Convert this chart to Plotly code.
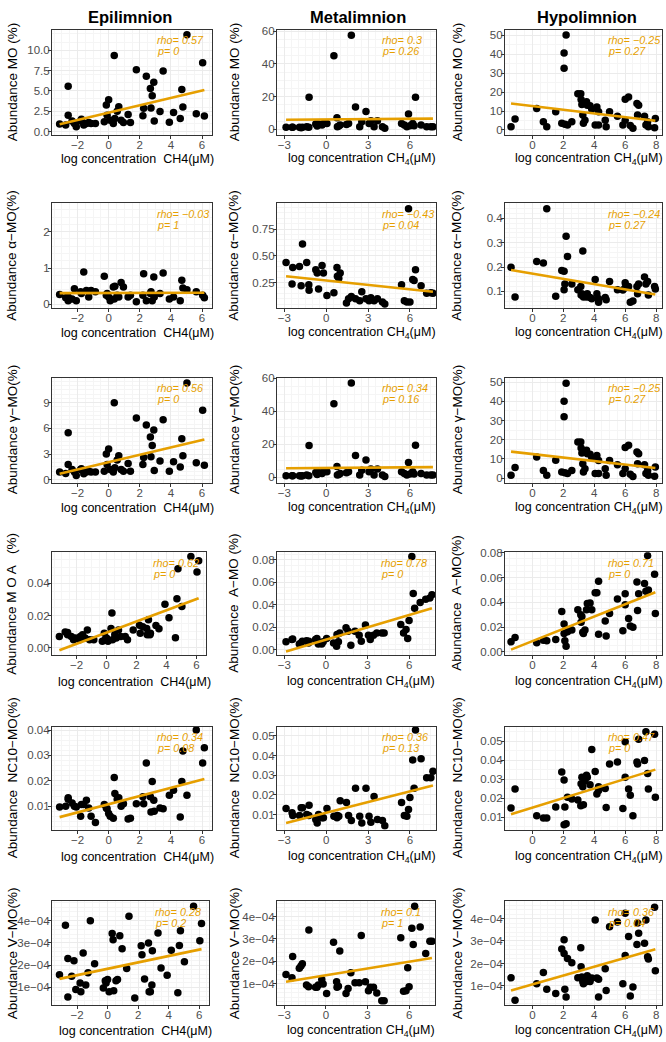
import plotly.graph_objects as go

W, H = 666, 1042

COL_TITLES = ["Epilimnion", "Metalimnion", "Hypolimnion"]

# ---------- x data (log CH4) per layer ----------
X_EPI = [-3.15,-2.76,-2.6,-2.6,-2.35,-2.2,-2.08,-1.8,-1.75,-1.6,-1.43,-1.28,-1.13,-0.85,-0.28,-0.15,0.0,-0.1,0.1,0.3,
         0.36,0.4,0.55,0.65,0.8,0.95,1.25,1.4,1.78,2.2,2.25,2.42,2.68,2.72,2.8,2.9,2.93,3.3,3.5,3.9,
         4.17,4.6,4.7,4.77,5.03,5.63,6.04,6.15]
X_META = [-2.88,-2.45,-1.92,-1.7,-1.4,-1.23,-1.25,-0.75,-0.55,-0.3,-0.2,0.05,0.55,0.77,0.8,1.0,1.45,1.6,1.8,2.1,
          2.4,2.55,2.85,3.07,3.2,3.43,3.67,4.03,4.2,5.4,5.6,5.78,5.9,6.0,6.2,6.4,6.3,6.8,7.2,7.5,7.65,
          -2.4,-1.8,-0.65,0.9]
X_HYPO = [-1.38,-1.12,0.28,0.71,0.93,1.51,1.9,2.05,2.05,2.18,2.1,2.27,2.55,2.94,3.13,3.15,3.2,3.26,3.3,3.4,
          3.5,3.55,3.73,3.84,4.06,4.17,4.28,4.28,4.71,4.77,4.99,5.5,5.85,6.0,6.0,6.22,6.33,6.5,6.76,6.87,
          6.8,7.25,7.34,7.45,7.5,7.9,7.95]

# ---------- abundances ----------
MO_EPI = [0.94,0.8,5.57,2.0,1.3,1.0,0.6,1.3,1.5,0.8,1.0,1.1,1.0,1.0,1.2,3.25,3.9,2.0,1.4,1.0,
          9.35,1.6,2.5,3.05,1.4,1.1,2.1,1.1,7.6,1.95,2.85,6.8,5.3,2.9,4.4,6.05,1.3,2.45,7.45,1.15,
          2.35,1.6,5.15,3.0,11.9,2.2,8.45,1.9]
MO_META = [1.2,1.2,1.2,1.2,1.6,19.6,1.2,3.2,3.2,2.6,3.6,3.6,45,7.0,1.6,2.6,3.0,3.6,57.5,13.7,
           1.6,4.6,10.9,3.6,5.2,1.6,5.2,1.6,0.6,3.6,2.6,1.6,9.3,2.2,3.6,19.6,2.2,2.6,1.6,1.6,1.6,
           1.2,1.0,2.0,2.0]
MO_HYPO = [1.7,5.8,11.4,4.4,1.7,9.6,3.5,32.7,40.7,50.2,3.0,2.6,4.4,19.2,19.2,16.1,13.5,7.9,3.5,5.1,
           14.9,13.1,12.8,11.0,2.6,12.2,9.6,2.6,5.2,1.7,9.6,7.3,2.6,5.2,16.3,17.5,2.3,0.9,14.0,13.1,
           7.9,7.3,2.6,4.4,1.7,1.2,6.1]

ALPHA_EPI = [0.27,0.18,0.1,0.2,0.15,0.43,0.1,0.35,0.3,0.89,0.38,0.2,0.38,0.35,0.77,0.25,0.2,0.3,0.1,0.48,
             0.15,0.5,0.25,0.2,0.6,0.48,0.2,0.25,0.07,0.25,0.84,0.1,0.3,0.35,0.1,0.75,0.2,0.3,0.86,0.15,
             0.2,0.1,0.66,0.45,0.4,0.35,0.25,0.18]
ALPHA_META = [0.437,0.237,0.40,0.61,0.437,0.18,0.23,0.37,0.19,0.41,0.34,0.13,0.155,0.39,0.31,0.34,0.06,0.1,0.12,0.1,
              0.08,0.165,0.1,0.08,0.11,0.08,0.1,0.07,0.05,0.23,0.08,0.07,0.94,0.07,0.28,0.37,0.27,0.22,0.15,0.155,0.15,
              0.39,0.22,0.34,0.29]
ALPHA_HYPO = [0.199,0.077,0.223,0.216,0.44,0.08,0.186,0.183,0.107,0.326,0.13,0.243,0.13,0.107,0.12,0.085,0.09,0.266,0.077,0.085,
              0.077,0.09,0.075,0.07,0.149,0.09,0.055,0.07,0.075,0.065,0.14,0.107,0.105,0.135,0.115,0.12,0.055,0.06,0.12,0.13,
              0.09,0.159,0.13,0.14,0.085,0.12,0.11]

GAMMA_EPI = [0.9,0.75,5.5,1.8,1.2,0.9,0.5,1.2,1.3,0.7,0.9,1.0,0.9,0.9,1.0,3.0,3.6,1.8,1.2,0.9,
             9.0,1.4,2.3,2.8,1.2,1.0,1.9,1.0,7.2,1.8,2.6,6.4,5.0,2.7,4.0,5.8,1.1,2.2,7.0,1.0,
             2.1,1.5,4.8,2.8,11.3,2.0,8.1,1.7]
GAMMA_META = [1.0,1.0,1.0,1.0,1.4,19.2,1.0,3.0,3.0,2.4,3.4,3.4,44.5,6.6,1.4,2.4,2.8,3.4,57.0,13.2,
              1.4,4.3,10.5,3.4,5.0,1.4,5.0,1.4,0.5,3.4,2.4,1.4,9.0,2.0,3.4,19.4,2.0,2.4,1.4,1.4,1.4,
              1.0,0.8,1.8,1.8]
GAMMA_HYPO = [1.5,5.5,11.0,4.0,1.5,9.3,3.2,32.0,40.0,49.5,2.8,2.4,4.0,18.8,18.8,15.7,13.0,7.5,3.2,4.8,
              14.5,12.7,12.4,10.6,2.4,11.8,9.2,2.4,4.8,1.5,9.2,7.0,2.4,4.8,15.9,17.1,2.0,0.8,13.6,12.7,
              7.5,7.0,2.4,4.0,1.5,1.0,5.8]

AMO_EPI = [0.007,0.0097,0.0095,0.008,0.007,0.005,0.006,0.005,0.007,0.008,0.006,0.011,0.005,0.005,0.004,0.009,0.006,0.005,0.004,0.012,
           0.0215,0.005,0.008,0.006,0.011,0.007,0.007,0.005,0.011,0.014,0.009,0.013,0.012,0.008,0.0173,0.008,0.009,0.0138,0.0118,0.027,
           0.0186,0.0062,0.0303,0.049,0.0256,0.0565,0.047,0.054]
AMO_META = [0.007,0.009,0.005,0.0075,0.008,0.0075,0.006,0.009,0.005,0.005,0.007,0.01,0.006,0.003,0.0135,0.015,0.0195,0.0165,0.004,0.0165,
            0.013,0.0075,0.022,0.013,0.009,0.013,0.015,0.015,0.015,0.0225,0.015,0.018,0.01,0.026,0.083,0.037,0.05,0.042,0.045,0.046,0.049,
            0.0095,0.006,0.01,0.007]
AMO_HYPO = [0.0082,0.0117,0.0074,0.0095,0.009,0.01,0.0327,0.0226,0.015,0.0046,0.009,0.0163,0.0177,0.034,0.030,0.024,0.0286,0.016,0.015,0.0177,
            0.034,0.039,0.0395,0.034,0.0477,0.0477,0.057,0.0144,0.025,0.0128,0.031,0.0428,0.0172,0.047,0.038,0.027,0.021,0.02,0.0564,0.047,
            0.0335,0.0553,0.049,0.0777,0.05,0.0627,0.031]

NC10_EPI = [0.0097,0.010,0.0133,0.0127,0.0113,0.010,0.0097,0.006,0.0107,0.0107,0.0123,0.0093,0.006,0.0036,0.0107,0.0093,0.0071,0.009,0.006,0.0053,
            0.0213,0.015,0.0127,0.0133,0.010,0.011,0.005,0.0053,0.011,0.0137,0.011,0.027,0.0137,0.0077,0.0197,0.0123,0.008,0.0093,0.009,0.0143,
            0.0163,0.0057,0.0197,0.0317,0.0143,0.040,0.027,0.033]
NC10_META = [0.0131,0.0109,0.0095,0.0135,0.010,0.0147,0.0095,0.0074,0.010,0.0083,0.0083,0.013,0.0091,0.0083,0.0095,0.017,0.0161,0.0095,0.007,0.0234,
             0.0091,0.0057,0.0234,0.0091,0.006,0.0192,0.0074,0.007,0.0043,0.0161,0.0095,0.0091,0.0126,0.0187,0.0378,0.053,0.0234,0.0384,0.0287,0.0287,0.032,
             0.0095,0.0135,0.0057,0.0091]
NC10_HYPO = [0.0148,0.0248,0.0107,0.0095,0.0095,0.0153,0.0337,0.0295,0.006,0.0065,0.0153,0.0205,0.0195,0.019,0.016,0.0275,0.031,0.026,0.0165,0.029,
             0.032,0.031,0.027,0.0456,0.034,0.0222,0.026,0.024,0.025,0.015,0.038,0.039,0.0145,0.0497,0.031,0.0248,0.0215,0.0107,0.039,0.051,
             0.038,0.0398,0.055,0.033,0.0248,0.0537,0.0205]

VMO_EPI = [1.57e-4,3.8e-4,2.3e-4,0.56e-4,1.5e-4,2.2e-4,0.9e-4,1.2e-4,0.8e-4,2.55e-4,1.1e-4,1.66e-4,4.0e-4,2.06e-4,0.97e-4,1.3e-4,1.35e-4,1.2e-4,0.8e-4,3.43e-4,
           3.14e-4,0.85e-4,1.3e-4,1.35e-4,3.32e-4,2.74e-4,1.85e-4,4.2e-4,0.52e-4,2.87e-4,2.47e-4,1.37e-4,3.0e-4,0.8e-4,0.8e-4,1.1e-4,2.65e-4,3.45e-4,1.87e-4,1.54e-4,
           2.67e-4,0.75e-4,2.88e-4,3.55e-4,2.15e-4,4.65e-4,3.1e-4,3.87e-4]
VMO_META = [1.42e-4,1.28e-4,1.7e-4,1.9e-4,0.95e-4,3.4e-4,0.87e-4,0.85e-4,0.95e-4,1.2e-4,1.0e-4,0.57e-4,2.85e-4,1.1e-4,0.85e-4,2.47e-4,0.57e-4,0.8e-4,1.5e-4,1.05e-4,
            1.05e-4,3.15e-4,1.1e-4,0.7e-4,0.85e-4,0.85e-4,0.6e-4,0.25e-4,0.25e-4,3.05e-4,0.67e-4,0.7e-4,1.72e-4,0.87e-4,3.48e-4,4.45e-4,2.75e-4,3.53e-4,2.35e-4,2.9e-4,2.9e-4,
            2.22e-4,1.8e-4,0.85e-4,0.9e-4]
VMO_HYPO = [1.36e-4,0.36e-4,1.1e-4,1.6e-4,0.85e-4,0.66e-4,2.64e-4,2.44e-4,3.06e-4,0.51e-4,0.85e-4,2.22e-4,2.03e-4,1.36e-4,2.7e-4,1.85e-4,1.4e-4,1.2e-4,1.1e-4,1.3e-4,
            1.2e-4,1.45e-4,1.2e-4,1.35e-4,3.93e-4,1.35e-4,0.51e-4,1.3e-4,1.77e-4,0.8e-4,3.63e-4,3.85e-4,1.1e-4,2.35e-4,4.23e-4,3.2e-4,0.55e-4,0.95e-4,2.84e-4,3.34e-4,
            3.8e-4,2.9e-4,3.93e-4,2.3e-4,2.2e-4,4.5e-4,1.68e-4]

# ---------- fitted lines (values at both ends of each layer's x span) ----------
FIT_X = {"epi": [-3.15, 6.15], "meta": [-2.88, 7.65], "hypo": [-1.38, 7.95]}
FIT_MO = [[0.9, 5.1], [5.8, 6.5], [14.0, 4.9]]
FIT_ALPHA = [[0.31, 0.32], [0.31, 0.165], [0.188, 0.087]]
FIT_GAMMA = [[0.7, 4.7], [5.5, 6.2], [13.8, 5.2]]
FIT_AMO = [[-0.0016, 0.0307], [-0.0015, 0.037], [0.0019, 0.0482]]
FIT_NC10 = [[0.0057, 0.0207], [0.0057, 0.0248], [0.0115, 0.035]]
FIT_VMO = [[1.38e-4, 2.72e-4], [1.1e-4, 2.15e-4], [0.8e-4, 2.63e-4]]

RHO = [["0.57", "0.3", "\u22120.25"], ["\u22120.03", "\u22120.43", "\u22120.24"], ["0.56", "0.34", "\u22120.25"],
       ["0.62", "0.78", "0.71"], ["0.34", "0.36", "0.47"], ["0.28", "0.1", "0.36"]]
PVAL = [["0", "0.26", "0.27"], ["1", "0.04", "0.27"], ["0", "0.16", "0.27"],
        ["0", "0", "0"], ["0.08", "0.13", "0"], ["0.2", "1", "0.04"]]

NB = "\u00a0"
Y_TITLES = [["Abundance MO (%)"] * 3,
            ["Abundance \u03b1\u2212MO(%)"] * 3,
            ["Abundance \u03b3\u2212MO(%)"] * 3,
            ["Abundance M O A" + NB * 3 + "(%)", "Abundance" + NB * 2 + "A\u2212MO (%)", "Abundance" + NB * 2 + "A\u2212MO(%)"],
            ["Abundance" + NB * 2 + "NC10\u2212MO(%)"] * 3,
            ["Abundance V\u2212MO(%)"] * 3]
X_TITLES = ["log concentration" + NB * 2 + "CH4(\u03bcM)",
            "log concentration CH<sub>4</sub>(\u03bcM)",
            "log concentration CH<sub>4</sub>(\u03bcM)"]

XS = [X_EPI, X_META, X_HYPO]
KEYS = ["epi", "meta", "hypo"]
YS = [[MO_EPI, MO_META, MO_HYPO], [ALPHA_EPI, ALPHA_META, ALPHA_HYPO], [GAMMA_EPI, GAMMA_META, GAMMA_HYPO],
      [AMO_EPI, AMO_META, AMO_HYPO], [NC10_EPI, NC10_META, NC10_HYPO], [VMO_EPI, VMO_META, VMO_HYPO]]
FITS = [FIT_MO, FIT_ALPHA, FIT_GAMMA, FIT_AMO, FIT_NC10, FIT_VMO]

# ---------- styling / layout ----------
ROW_TOP = [24, 199, 375, 551, 727, 903]
ROW_H = [106, 106, 106, 104, 104, 105]
XT_OFF = [24, 25, 25, 27, 27, 26]
COL_L = [52, 277, 505]
COL_R = [[212, 436, 662], [212, 436, 662], [212, 436, 662], [206, 435, 662], [212, 436, 662], [209, 435, 662]]
YT_X = [12, 234, 457]

X_RANGES = [[-3.64, 6.64], [-3.53, 7.87], [-1.77, 8.38]]
X_TICKS = [[-2, 0, 2, 4, 6], [-3, 0, 3, 6], [0, 2, 4, 6, 8]]

Y_RANGES = [[[-0.41, 12.5], [-3.4, 60.8], [-2.6, 53.0]],
            [[-0.11, 2.78], [0.01, 0.99], [0.03, 0.462]],
            [[-0.35, 11.9], [-3.3, 60.2], [-2.5, 52.3]],
            [[-0.0047, 0.0592], [-0.005, 0.0868], [-0.0027, 0.0804]],
            [[0.0007, 0.0413], [0.0022, 0.0547], [0.0033, 0.0576]],
            [[0.19e-4, 4.88e-4], [0.05e-4, 4.68e-4], [0.14e-4, 4.77e-4]]]
Y_TICKS = [[[0, 2.5, 5, 7.5, 10], [0, 20, 40, 60], [0, 10, 20, 30, 40, 50]],
           [[0, 1, 2], [0.25, 0.5, 0.75], [0.1, 0.2, 0.3, 0.4]],
           [[0, 3, 6, 9], [0, 20, 40, 60], [0, 10, 20, 30, 40, 50]],
           [[0, 0.02, 0.04], [0, 0.02, 0.04, 0.06, 0.08], [0, 0.02, 0.04, 0.06, 0.08]],
           [[0.01, 0.02, 0.03, 0.04], [0.01, 0.02, 0.03, 0.04, 0.05], [0.01, 0.02, 0.03, 0.04, 0.05]],
           [[1e-4, 2e-4, 3e-4, 4e-4]] * 3]
Y_FMT = [["{:.1f}", "{:.0f}", "{:.0f}"], ["{:.0f}", "{:.2f}", "{:.1f}"], ["{:.0f}", "{:.0f}", "{:.0f}"],
         ["{:.2f}"] * 3, ["{:.2f}"] * 3, ["sci"] * 3]

ORANGE = "#E69F00"
FONT = "Liberation Sans, Arial, Helvetica, sans-serif"

def px_x(p):
    return p / W

def px_y(p):
    return 1 - p / H

fig = go.Figure()
layout = dict(width=W, height=H, margin=dict(l=0, r=0, t=0, b=0), showlegend=False,
              paper_bgcolor="white", plot_bgcolor="white", font=dict(family=FONT, color="black"))
annotations = []

for r in range(6):
    for c in range(3):
        k = r * 3 + c + 1
        sfx = "" if k == 1 else str(k)
        xa, ya = "x" + sfx, "y" + sfx
        fig.add_trace(go.Scatter(x=XS[c], y=YS[r][c], mode="markers", xaxis=xa, yaxis=ya,
                                 marker=dict(color="black", size=7.5, line=dict(width=0)), hoverinfo="skip"))
        fig.add_trace(go.Scatter(x=FIT_X[KEYS[c]], y=FITS[r][c], mode="lines", xaxis=xa, yaxis=ya,
                                 line=dict(color=ORANGE, width=2.6), hoverinfo="skip"))
        x0, x1 = COL_L[c], COL_R[r][c]
        y0, y1 = ROW_TOP[r], ROW_TOP[r] + ROW_H[r]
        tv = Y_TICKS[r][c]
        fmt = Y_FMT[r][c]
        if fmt == "sci":
            tt = ["{:.0e}".format(v).replace("-", "\u2212") for v in tv]
        else:
            tt = [fmt.format(v) for v in tv]
        axis_common = dict(showline=True, linecolor="#333333", linewidth=1.1, mirror=True,
                           ticks="outside", ticklen=3, tickcolor="#333333", tickwidth=1,
                           ticklabelstandoff=-4,
                           tickfont=dict(size=11.5, color="#4D4D4D", family=FONT),
                           showgrid=True, gridcolor="#EBEBEB", gridwidth=1, zeroline=False,
                           minor=dict(showgrid=True, gridcolor="#F5F5F5", gridwidth=0.6))
        layout["xaxis" + sfx] = dict(
            domain=[px_x(x0), px_x(x1)], anchor=ya, range=X_RANGES[c],
            tickmode="array", tickvals=X_TICKS[c], ticktext=[str(v).replace("-", "\u2212") for v in X_TICKS[c]],
            **axis_common)
        layout["yaxis" + sfx] = dict(
            domain=[px_y(y1), px_y(y0)], anchor=xa, range=Y_RANGES[r][c],
            tickmode="array", tickvals=tv, ticktext=tt, **axis_common)
        # stats text
        annotations.append(dict(xref=f"{xa} domain", yref="paper", x=0.645, y=px_y(y0 + 10.5),
                                text=f"<i>rho= {RHO[r][c]}</i>", showarrow=False, xanchor="left", yanchor="middle",
                                font=dict(size=10.8, color=ORANGE, family=FONT)))
        annotations.append(dict(xref=f"{xa} domain", yref="paper", x=0.645, y=px_y(y0 + 21.5),
                                text=f"<i>p= {PVAL[r][c]}</i>", showarrow=False, xanchor="left", yanchor="middle",
                                font=dict(size=10.8, color=ORANGE, family=FONT)))
        # y title
        annotations.append(dict(xref="paper", yref="paper", x=px_x(YT_X[c]), y=px_y((y0 + y1) / 2),
                                text=Y_TITLES[r][c], textangle=-90, showarrow=False,
                                xanchor="center", yanchor="middle", font=dict(size=13.5, color="black", family=FONT)))
        # x title
        annotations.append(dict(xref="paper", yref="paper", x=px_x((x0 + x1) / 2 + 5), y=px_y(y1 + XT_OFF[r]),
                                text=X_TITLES[c], showarrow=False, xanchor="center", yanchor="middle",
                                font=dict(size=12.5, color="black", family=FONT)))

TITLE_X = [130, 358, 587]
for c in range(3):
    annotations.append(dict(xref="paper", yref="paper", x=px_x(TITLE_X[c]), y=px_y(11),
                            text=f"<b>{COL_TITLES[c]}</b>", showarrow=False, xanchor="center", yanchor="middle",
                            font=dict(size=16.5, color="black", family=FONT)))

layout["annotations"] = annotations
fig.update_layout(**layout)
fig.write_html("out.html", config={"displayModeBar": False},
               post_script="document.body.style.margin='0';document.body.style.padding='0';")
